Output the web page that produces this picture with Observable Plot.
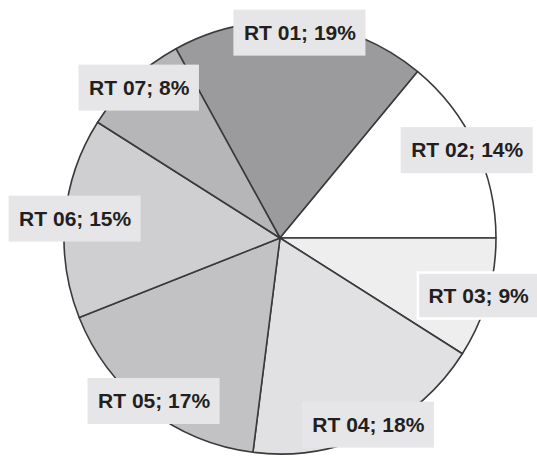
<!DOCTYPE html>
<html><head><meta charset="utf-8">
<script src="https://cdn.jsdelivr.net/npm/d3@7"></script>
<script src="https://cdn.jsdelivr.net/npm/@observablehq/plot@0.6"></script>
<style>body{margin:0;background:#fff} svg{display:block}</style>
</head><body><div id="chart"></div>
<script>
const categories = ["RT 01","RT 02","RT 03","RT 04","RT 05","RT 06","RT 07"];
const shares = [19,14,9,18,17,15,8];
const labels = ["RT 01; 19%","RT 02; 14%","RT 03; 9%","RT 04; 18%","RT 05; 17%","RT 06; 15%","RT 07; 8%"];
const colors = ["#9b9b9d","#ffffff","#eeeeef","#e1e1e3","#c2c2c4","#cfcfd1","#b6b6b8"];

const W = 537, H = 460, CX = 280, CY = 238, R = 216;
const FONT = "bold 21px 'Liberation Sans', Arial, sans-serif";
const rot = -28.8 * Math.PI / 180;
const arcs = d3.pie().sort(null).startAngle(rot).endAngle(rot + 2 * Math.PI)(shares);

const ctx = document.createElement("canvas").getContext("2d");
ctx.font = FONT;
const k = 0.955;
const labelData = arcs.map((a, i) => {
  const m = (a.startAngle + a.endAngle) / 2;
  return {
    cat: categories[i], text: labels[i],
    x: k * Math.sin(m), y: k * Math.cos(m),
    w: ctx.measureText(labels[i]).width
  };
});

const sliceMark = (index, scales, values, dimensions) => {
  const sx = scales && scales.x, sy = scales && scales.y;
  const cx = sx ? sx(0) : CX, cy = sy ? sy(0) : CY;
  const r = sx ? sx(1) - sx(0) : R;
  const g = d3.create("svg:g").attr("transform", `translate(${cx},${cy})`);
  const arc = d3.arc().innerRadius(0).outerRadius(r);
  g.selectAll("path").data(arcs).join("path")
    .attr("d", arc)
    .attr("fill", (d, i) => colors[i])
    .attr("stroke", "#3a3a3c")
    .attr("stroke-width", 1.6)
    .attr("stroke-linejoin", "round");
  return g.node();
};

const padX = 10 / R, halfH = 23 / R;
const rectOpts = {
  x1: d => d.x - d.w / 2 / R - padX, x2: d => d.x + d.w / 2 / R + padX,
  y1: d => d.y - halfH, y2: d => d.y + halfH,
  fill: "#e6e6e8"
};

const chart = Plot.plot({
  width: W, height: H, margin: 0,
  x: {domain: [-CX / R, (W - CX) / R], axis: null},
  y: {domain: [-(H - CY) / R, CY / R], axis: null},
  marks: [
    sliceMark,
    Plot.rect(labelData.filter(d => d.cat !== "RT 03"), rectOpts),
    Plot.rect(labelData.filter(d => d.cat === "RT 03"), {...rectOpts, stroke: "#ffffff", strokeWidth: 2.5}),
    Plot.text(labelData, {
      x: "x", y: "y", text: "text",
      fontSize: 21, fontWeight: "bold",
      fontFamily: "'Liberation Sans', Arial, sans-serif",
      fill: "#231f20"
    })
  ]
});
document.getElementById("chart").appendChild(chart);
</script>
</body></html>
